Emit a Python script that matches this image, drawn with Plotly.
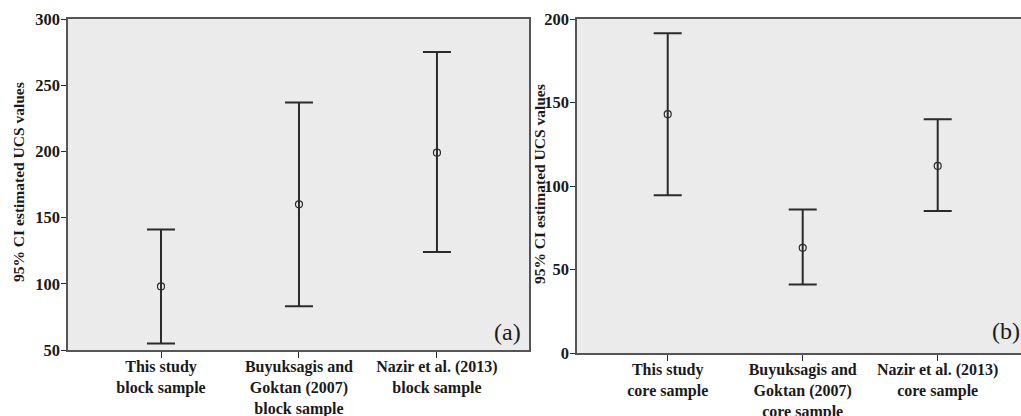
import plotly.graph_objects as go

# ---- data ----
categories_a = ["This study<br>block sample", "Buyuksagis and<br>Goktan (2007)<br>block sample", "Nazir et al. (2013)<br>block sample"]
mean_a = [98, 160, 199]
upper_a = [141, 237, 275]
lower_a = [55, 83, 124]

categories_b = ["This study<br>core sample", "Buyuksagis and<br>Goktan (2007)<br>core sample", "Nazir et al. (2013)<br>core sample"]
mean_b = [143, 63, 112]
upper_b = [191.5, 86, 140]
lower_b = [94.5, 41, 85]

yticks_a = [50, 100, 150, 200, 250, 300]
yticks_b = [0, 50, 100, 150, 200]
ytitle = "95% CI estimated UCS values"

W, H = 1021, 416
SERIF = "Liberation Serif"
LINE = "#2b2b2b"
FRAME = "#555555"
BG = "#ebebeb"

fig = go.Figure()

def add_panel(cats, means, ups, lows, xa, ya):
    x = list(range(len(cats)))
    fig.add_trace(go.Scatter(
        x=x, y=means, mode="markers", xaxis=xa, yaxis=ya,
        marker=dict(symbol="circle-open", size=7, color=LINE, line=dict(width=1.2, color=LINE)),
        error_y=dict(type="data", symmetric=False,
                     array=[u - m for u, m in zip(ups, means)],
                     arrayminus=[m - l for m, l in zip(means, lows)],
                     color=LINE, thickness=2, width=14),
        showlegend=False, hoverinfo="skip",
    ))

add_panel(categories_a, mean_a, upper_a, lower_a, "x", "y")
add_panel(categories_b, mean_b, upper_b, lower_b, "x2", "y2")

tickfont = dict(family=SERIF, size=16.5, color="#1a1a1a", weight="bold")
catfont = dict(family=SERIF, size=16, color="#1a1a1a", weight="bold")

xa_common = dict(showgrid=False, zeroline=False, showline=True, linecolor=FRAME, linewidth=1.5,
                 ticks="outside", ticklen=6, tickwidth=1.2, tickcolor=LINE, tickfont=catfont,
                 tickmode="array", tickvals=[0, 1, 2], fixedrange=True, automargin=False,
                 ticklabelstandoff=-5)
ya_common = dict(showgrid=False, zeroline=False, showline=True, linecolor=FRAME, linewidth=1.5,
                 ticks="outside", ticklen=5, tickwidth=1.2, tickcolor=LINE, tickfont=tickfont,
                 tickmode="array", fixedrange=True, automargin=False, ticklabelstandoff=-2)

fig.update_layout(
    template="none",
    width=W, height=H,
    margin=dict(l=0, r=0, t=0, b=0, autoexpand=False),
    paper_bgcolor="white", plot_bgcolor=BG,
    xaxis=dict(xa_common, domain=[68 / W, 529 / W], range=[-0.674, 2.667],
               ticktext=categories_a, mirror=True, anchor="y"),
    yaxis=dict(ya_common, domain=[(H - 350) / H, (H - 19) / H], range=[50, 300],
               tickvals=yticks_a, mirror=True, anchor="x"),
    xaxis2=dict(xa_common, domain=[577 / W, 1.0], range=[-0.672, 2.617],
                ticktext=categories_b, mirror=True, anchor="y2"),
    yaxis2=dict(ya_common, domain=[(H - 353) / H, (H - 19) / H], range=[0, 200],
                tickvals=yticks_b, mirror=False, anchor="x2"),
)

ann = dict(xref="paper", yref="paper", showarrow=False, xanchor="center", yanchor="middle")
fig.add_annotation(text=ytitle, x=18 / W, y=(H - 182) / H, textangle=-90,
                   font=dict(family=SERIF, size=15.5, color="#1a1a1a", weight="bold"), **ann)
fig.add_annotation(text=ytitle, x=539 / W, y=(H - 184) / H, textangle=-90,
                   font=dict(family=SERIF, size=15.5, color="#1a1a1a", weight="bold"), **ann)
fig.add_annotation(text="(a)", x=507 / W, y=(H - 332) / H,
                   font=dict(family=SERIF, size=24, color="#1a1a1a"), **ann)
fig.add_annotation(text="(b)", x=1006 / W, y=(H - 331) / H,
                   font=dict(family=SERIF, size=24, color="#1a1a1a"), **ann)

fig.write_html("out.html", config={"displayModeBar": False})
